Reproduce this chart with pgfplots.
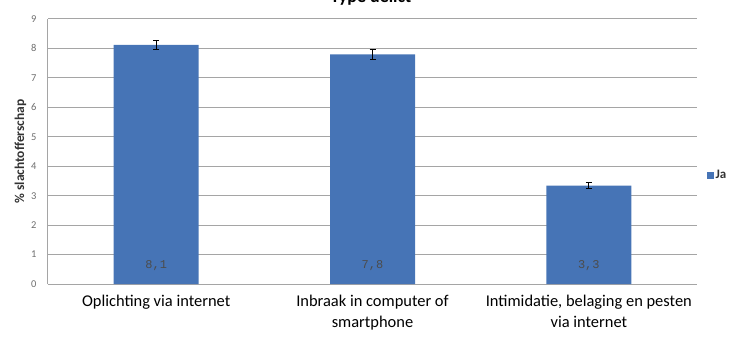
\documentclass[border=0pt]{standalone}
\usepackage{pgfplots}
\pgfplotsset{compat=1.18}
\usepackage{fontspec}
\setmainfont{Carlito}
\newfontfamily\monofont{Liberation Mono}
\definecolor{barblue}{RGB}{70,116,182}
\definecolor{gridgray}{RGB}{165,165,165}
\definecolor{ticktext}{RGB}{110,110,110}
\begin{document}
\begin{tikzpicture}
\useasboundingbox (-48bp,-54bp) rectangle (697bp,284bp);
\begin{axis}[
    at={(0,0)}, anchor=south west,
    scale only axis, width=649bp, height=265bp,
    xmin=-0.5, xmax=2.5, ymin=0, ymax=9,
    ytick={0,...,9},
    xtick={0,1,2},
    xticklabels={Oplichting via internet, Inbraak in computer of\\smartphone, {Intimidatie, belaging en pesten\\via internet}},
    x tick label style={align=center, font=\fontsize{16.5}{21}\selectfont, text=black, yshift=-8bp},
    y tick label style={font=\fontsize{10.5}{10.5}\selectfont, text=ticktext, xshift=-8bp},
    /pgf/number format/assume math mode=true,
    major tick length=0pt,
    ymajorgrids, grid style={gridgray, line width=1bp},
    axis line style={gridgray, line width=1bp},
    axis x line*=bottom, axis y line*=left,
    ylabel={\% slachtofferschap},
    ylabel style={font=\bfseries\fontsize{13.5}{13.5}\selectfont, text=black!80, yshift=-2bp},
    legend style={at={(1.01,0.41)}, anchor=west, draw=none, fill=none,
        font=\bfseries\fontsize{13}{13}\selectfont, text=black!80},
    legend image code/.code={\fill[barblue] (0bp,-3.5bp) rectangle (7bp,3.5bp);},
  ]
  \addplot[ybar, bar width=85bp, fill=barblue, draw=none,
      error bars/.cd, y dir=both, y explicit,
      error bar style={black, line width=0.9bp},
      error mark options={black, rotate=90, mark size=3bp, line width=0.9bp}]
    coordinates {(0,8.12) +- (0,0.16) (1,7.80) +- (0,0.16) (2,3.34) +- (0,0.10)};
  \addlegendentry{Ja}
  \node[font=\monofont\fontsize{12}{12}\selectfont, text=black!70] at (axis cs:0,0.62) {8,1};
  \node[font=\monofont\fontsize{12}{12}\selectfont, text=black!70] at (axis cs:1,0.62) {7,8};
  \node[font=\monofont\fontsize{12}{12}\selectfont, text=black!70] at (axis cs:2,0.62) {3,3};
\end{axis}
\node[font=\bfseries\fontsize{18}{18}\selectfont, anchor=base] at (323bp,281bp) {Type delict};
\end{tikzpicture}
\end{document}
